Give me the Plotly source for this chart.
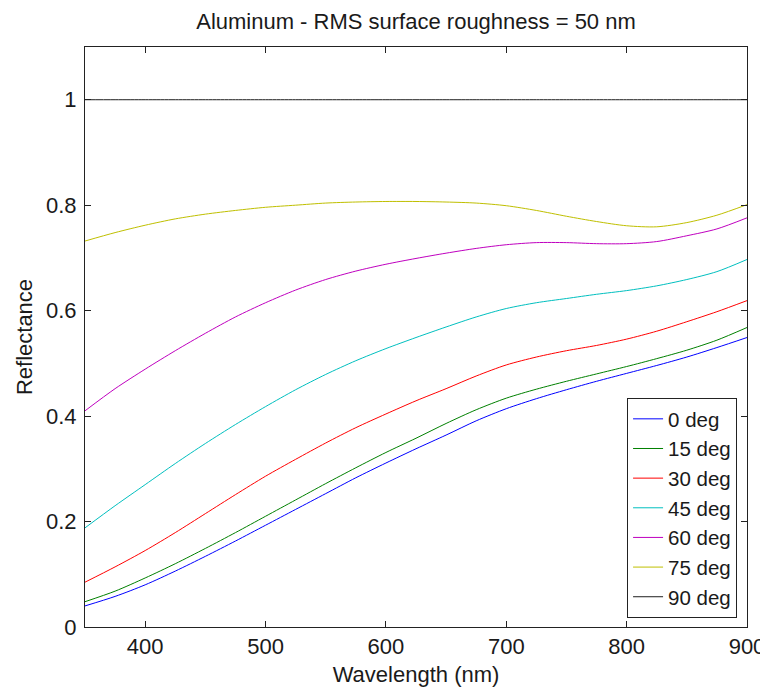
import plotly.graph_objects as go

wavelength = [350, 375, 400, 425, 450, 475, 500, 525, 550, 575, 600, 625,
              650, 675, 700, 725, 750, 775, 800, 825, 850, 875, 900]

r_0deg = [0.040, 0.058, 0.080, 0.106, 0.134, 0.163, 0.193, 0.223, 0.253, 0.283, 0.311, 0.338,
          0.364, 0.391, 0.414, 0.433, 0.450, 0.466, 0.481, 0.496, 0.512, 0.530, 0.549]
r_15deg = [0.048, 0.068, 0.093, 0.120, 0.149, 0.179, 0.210, 0.241, 0.272, 0.302, 0.331, 0.358,
           0.386, 0.412, 0.434, 0.451, 0.466, 0.480, 0.494, 0.509, 0.525, 0.544, 0.568]
r_30deg = [0.085, 0.114, 0.145, 0.179, 0.215, 0.251, 0.286, 0.318, 0.349, 0.378, 0.404, 0.429,
           0.452, 0.476, 0.497, 0.512, 0.524, 0.534, 0.546, 0.561, 0.579, 0.598, 0.619]
r_45deg = [0.188, 0.230, 0.270, 0.310, 0.348, 0.384, 0.418, 0.450, 0.479, 0.505, 0.528, 0.549,
           0.569, 0.588, 0.604, 0.615, 0.623, 0.631, 0.638, 0.647, 0.659, 0.674, 0.697]
r_60deg = [0.410, 0.452, 0.489, 0.524, 0.557, 0.588, 0.615, 0.639, 0.659, 0.675, 0.688, 0.699,
           0.709, 0.718, 0.725, 0.729, 0.729, 0.727, 0.727, 0.731, 0.742, 0.755, 0.776]
r_75deg = [0.732, 0.748, 0.762, 0.774, 0.783, 0.790, 0.796, 0.800, 0.804, 0.806, 0.807, 0.807,
           0.806, 0.804, 0.799, 0.790, 0.779, 0.769, 0.761, 0.759, 0.767, 0.781, 0.801]
r_90deg = [1.0] * len(wavelength)

series_names = ["0 deg", "15 deg", "30 deg", "45 deg", "60 deg", "75 deg", "90 deg"]
series_values = [r_0deg, r_15deg, r_30deg, r_45deg, r_60deg, r_75deg, r_90deg]
series_colors = ["rgb(0,0,255)", "rgb(0,128,0)", "rgb(255,0,0)", "rgb(0,191,191)",
                 "rgb(191,0,191)", "rgb(191,191,0)", "rgb(30,30,30)"]

x_ticks = [400, 500, 600, 700, 800, 900]
y_ticks = [0, 0.2, 0.4, 0.6, 0.8, 1]
y_tick_labels = ["0", "0.2", "0.4", "0.6", "0.8", "1"]

FONT = "Liberation Sans, Arial, sans-serif"
TXT = "#1a1a1a"
FS = 22

fig = go.Figure()
for name, vals, col in zip(series_names, series_values, series_colors):
    fig.add_trace(go.Scatter(x=wavelength, y=vals, mode="lines", name=name,
                             line=dict(color=col, width=1, shape="spline", smoothing=0.8)))

fig.update_layout(
    width=768, height=688,
    margin=dict(l=77, r=29, t=39, b=69),
    paper_bgcolor="white", plot_bgcolor="white",
    font=dict(family=FONT, size=FS, color=TXT),
    title=dict(text="Aluminum - RMS surface roughness = 50 nm",
               x=0.5, xref="paper", xanchor="center",
               y=1 - 13 / 688, yanchor="middle",
               font=dict(family=FONT, size=FS, color=TXT)),
    showlegend=True,
    legend=dict(x=0.985, y=0.0155, xanchor="right", yanchor="bottom",
                bgcolor="white", bordercolor="#222", borderwidth=1,
                font=dict(family=FONT, size=20.5, color=TXT),
                tracegroupgap=0, itemwidth=30),
    xaxis=dict(range=[350, 900], tickvals=x_ticks, ticks="inside", ticklen=6,
               tickcolor="#222", showline=True, linecolor="#222", linewidth=1,
               mirror="ticks", showgrid=False, zeroline=False,
               tickfont=dict(family=FONT, size=FS, color=TXT),
               title=dict(text="Wavelength (nm)", standoff=8,
                          font=dict(family=FONT, size=FS, color=TXT))),
    yaxis=dict(range=[0, 1.1], tickvals=y_ticks, ticktext=y_tick_labels,
               ticks="inside", ticklen=6, tickcolor="#222",
               showline=True, linecolor="#222", linewidth=1,
               mirror="ticks", showgrid=False, zeroline=False,
               ticklabelstandoff=3,
               tickfont=dict(family=FONT, size=FS, color=TXT),
               title=dict(text="Reflectance", standoff=7,
                          font=dict(family=FONT, size=FS, color=TXT))),
)

fig.write_html("out.html")
